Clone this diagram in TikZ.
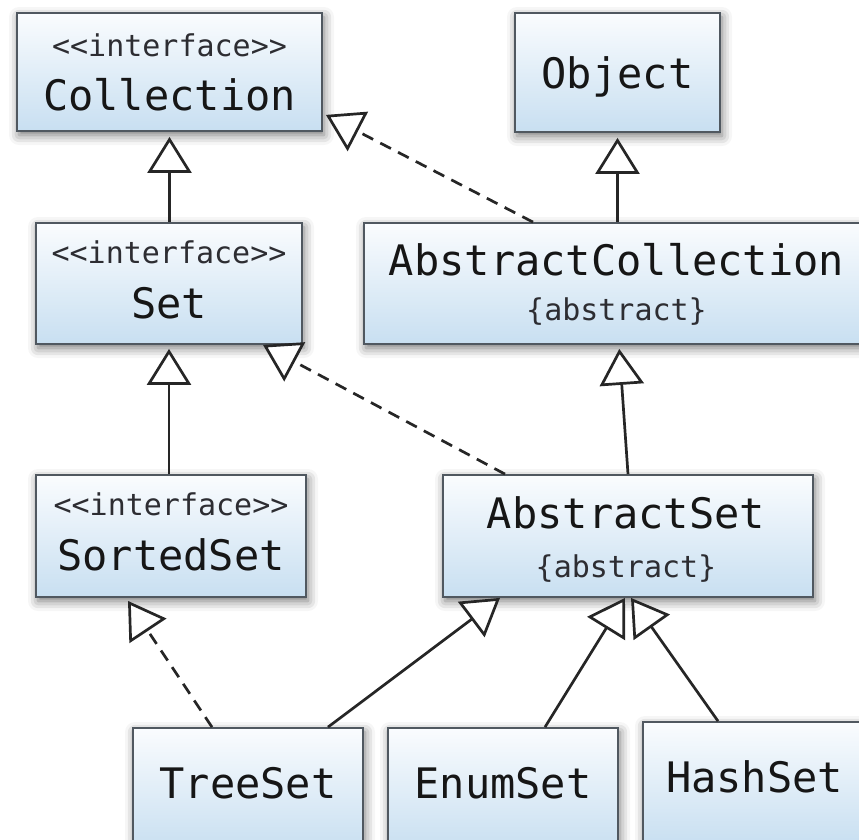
\documentclass[tikz,border=0pt]{standalone}
\usepackage{fontspec}
\newfontfamily\umlfont{DejaVu Sans Mono}
\usetikzlibrary{arrows.meta,shadows.blur}
\definecolor{boxtop}{RGB}{250,252,254}
\definecolor{boxbot}{RGB}{200,223,241}
\definecolor{boxline}{RGB}{80,88,96}
\definecolor{txt}{RGB}{22,22,22}
\definecolor{subtxt}{RGB}{45,45,50}
\tikzset{
  umlbox/.style={draw=boxline, line width=1.8pt, rectangle, inner sep=0pt,
    top color=boxtop, bottom color=boxbot,
    blur shadow={shadow xshift=2pt, shadow yshift=-4pt, shadow blur radius=10pt, shadow opacity=55}},
  nametxt/.style={anchor=base, inner sep=0pt, text=txt, font=\umlfont\fontsize{42}{48}\selectfont},
  stereotxt/.style={anchor=base, inner sep=0pt, text=subtxt, font=\umlfont\fontsize{30}{36}\selectfont},
  gen/.style={line width=2.7pt, draw=black!85, -{Triangle[length=36pt, width=44pt, fill=white]}},
  real/.style={gen, dash pattern=on 12pt off 8pt},
}
\begin{document}
\begin{tikzpicture}[x=1pt, y=-1pt]
\useasboundingbox (0,0) rectangle (859,839);
\clip (0,0) rectangle (859,839);

% boxes
\node[umlbox, minimum width=305pt, minimum height=118pt] (coll) at (169.5,72) {};
\node[umlbox, minimum width=205pt, minimum height=119pt] (obj) at (617.5,72.5) {};
\node[umlbox, minimum width=266pt, minimum height=121pt] (set) at (169,283.5) {};
\node[umlbox, minimum width=505pt, minimum height=121pt] (acol) at (616.5,283.5) {};
\node[umlbox, minimum width=270pt, minimum height=122pt] (sset) at (171,536) {};
\node[umlbox, minimum width=370pt, minimum height=122pt] (aset) at (628,536) {};
\node[umlbox, minimum width=230pt, minimum height=122pt] (tree) at (248,789) {};
\node[umlbox, minimum width=230pt, minimum height=122pt] (enum) at (503,789) {};
\node[umlbox, minimum width=223pt, minimum height=122pt] (hash) at (754.5,783) {};

% texts
\node[stereotxt] (coll-s) at (169.5,56) {<<interface>>};
\node[nametxt]   (coll-n) at (169.5,110) {Collection};
\node[nametxt]   (obj-n)  at (617.5,88) {Object};
\node[stereotxt] (set-s)  at (169,263) {<<interface>>};
\node[nametxt]   (set-n)  at (169,318) {Set};
\node[nametxt]   (acol-n) at (616.5,275) {AbstractCollection};
\node[stereotxt] (acol-s) at (616.5,320) {\{abstract\}};
\node[stereotxt] (sset-s) at (171,515) {<<interface>>};
\node[nametxt]   (sset-n) at (171,570) {SortedSet};
\node[nametxt]   (aset-n) at (626,528) {AbstractSet};
\node[stereotxt] (aset-s) at (626,577) {\{abstract\}};
\node[nametxt]   (tree-n) at (248,798) {TreeSet};
\node[nametxt]   (enum-n) at (503,798) {EnumSet};
\node[nametxt]   (hash-n) at (754.5,792) {HashSet};

% connectors
\draw[gen, shorten >=5pt] (coll.south |- set.north) -- (coll.south);
\draw[real] ([xshift=-83.5pt]acol.north) -- ([xshift=3pt,yshift=17pt]coll.south east);
\draw[gen, shorten >=5pt] (obj.south |- acol.north) -- (obj.south);
\draw[gen, shorten >=4pt] (set.south |- sset.north) -- (set.south);
\draw[real] ([xshift=-123pt]aset.north) -- ([xshift=94pt]set.south);
\draw[gen, shorten >=4pt] (aset.north) -- ([xshift=2.5pt]acol.south);
\draw[real] ([xshift=-36pt]tree.north) -- ([xshift=-43pt,yshift=-3pt]sset.south);
\draw[gen] ([xshift=80pt]tree.north) -- ([xshift=-128pt]aset.south);
\draw[gen] ([xshift=42pt]enum.north) -- ([xshift=-3pt]aset.south);
\draw[gen] ([xshift=-36.5pt]hash.north) -- ([xshift=3pt]aset.south);
\end{tikzpicture}
\end{document}
